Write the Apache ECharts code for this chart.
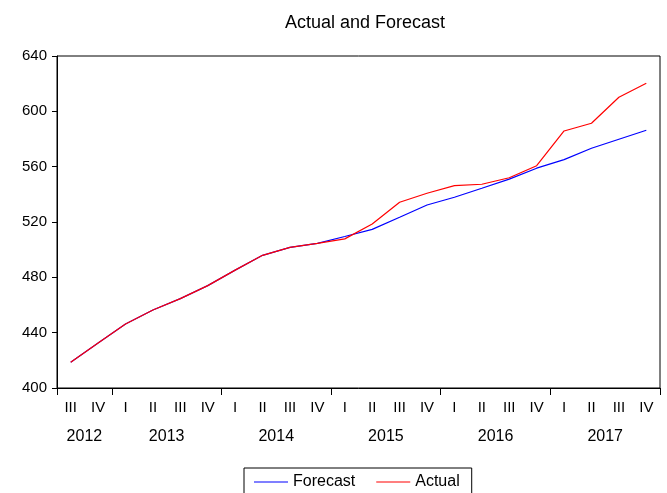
<!DOCTYPE html>
<html>
<head>
<meta charset="utf-8">
<script src="https://cdn.jsdelivr.net/npm/echarts@6/dist/echarts.min.js"></script>
<style>
html, body { margin: 0; padding: 0; background: #fff; }
#chart { width: 667px; height: 493px; }
</style>
</head>
<body>
<div id="chart"></div>
<script>
// quarters 2012Q3 .. 2017Q4
const quarters = ['III', 'IV', 'I', 'II', 'III', 'IV', 'I', 'II', 'III', 'IV', 'I', 'II',
                  'III', 'IV', 'I', 'II', 'III', 'IV', 'I', 'II', 'III', 'IV'];
// year axis sits on band edges (23 slots), year name in the middle of its quarters
const yearSlots = ['', '2012', '', '', '2013', '', '', '', '2014', '', '', '', '2015',
                   '', '', '', '2016', '', '', '', '2017', '', ''];
const yearBreaks = [0, 2, 6, 10, 14, 18, 22];
const forecast = [418.6, 432.5, 446.3, 456.4, 464.6, 474.0, 485.2, 495.9, 501.7, 504.6, 509.5,
                  514.7, 523.4, 532.3, 537.9, 544.4, 551.0, 558.9, 565.1, 573.3, 579.8, 586.3];
const actual = [418.6, 432.5, 446.3, 456.4, 464.6, 474.0, 485.2, 495.9, 501.7, 504.6, 507.8,
                518.6, 534.3, 540.8, 546.3, 547.3, 552.0, 560.7, 585.8, 591.4, 610.2, 620.3];
const yTicks = [400, 440, 480, 520, 560, 600, 640];

const font = 'Arial, "Liberation Sans", sans-serif';

let myChart = echarts.init(document.getElementById('chart'));
let option = {
    backgroundColor: '#fff',
    animation: false,
    title: {
        text: 'Actual and Forecast',
        left: 360,
        textAlign: 'center',
        top: 9,
        textStyle: { fontFamily: font, fontSize: 18, fontWeight: 'normal', color: '#000' }
    },
    grid: {
        left: 57,
        right: 7,
        top: 56,
        bottom: 105,
        show: true,
        borderColor: '#000',
        borderWidth: 1
    },
    legend: {
        left: 244,
        top: 468,
        padding: [6, 12, 30, 10],
        icon: 'rect',
        itemWidth: 34,
        itemHeight: 1,
        itemGap: 21,
        borderColor: '#000',
        borderWidth: 1,
        textStyle: { fontFamily: font, fontSize: 16, color: '#000' },
        data: ['Forecast', 'Actual']
    },
    xAxis: [{
        type: 'category',
        data: quarters,
        boundaryGap: true,
        position: 'bottom',
        axisLine: { lineStyle: { color: '#000', width: 1 } },
        axisTick: { length: 4, lineStyle: { color: '#000' } },
        axisLabel: { interval: 0, margin: 12, fontFamily: font, fontSize: 15, color: '#000' }
    }, {
        type: 'category',
        data: yearSlots,
        boundaryGap: false,
        position: 'bottom',
        axisLine: { show: false },
        axisTick: {
            length: 7,
            interval: function (i) { return yearBreaks.indexOf(i) >= 0; },
            lineStyle: { color: '#000' }
        },
        axisLabel: {
            interval: function (i, v) { return v !== ''; },
            margin: 41,
            fontFamily: font, fontSize: 16, color: '#000'
        }
    }],
    yAxis: {
        type: 'value',
        min: 400,
        max: 640,
        interval: 40,
        axisLine: { show: true, lineStyle: { color: '#000', width: 1 } },
        axisTick: { show: true, length: 5, lineStyle: { color: '#000' } },
        splitLine: { show: false },
        axisLabel: {
            margin: 10, fontFamily: font, fontSize: 15, color: '#000',
            formatter: function (v) { return yTicks.indexOf(v) >= 0 ? String(v) : ''; }
        }
    },
    series: [{
        name: 'Forecast',
        type: 'line',
        data: forecast,
        symbol: 'none',
        color: '#0000ff',
        lineStyle: { color: '#0000ff', width: 1.2 }
    }, {
        name: 'Actual',
        type: 'line',
        data: actual,
        symbol: 'none',
        color: '#ff0000',
        lineStyle: { color: '#ff0000', width: 1.2 }
    }]
};
myChart.setOption(option);
</script>
</body>
</html>
